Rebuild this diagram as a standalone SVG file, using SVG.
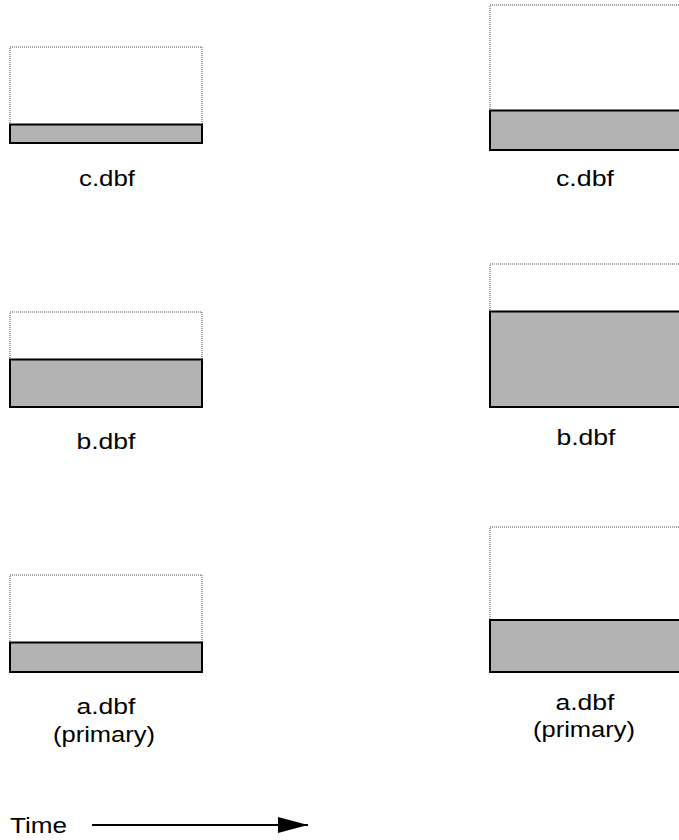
<svg xmlns="http://www.w3.org/2000/svg" width="679" height="840" viewBox="0 0 679 840">
<defs>
<style>
.outer{fill:#ffffff;stroke:#4d4d4d;stroke-width:1;stroke-dasharray:1 1}
.used{fill:#b3b3b3;stroke:#000000;stroke-width:2}
.lbl{font-family:"Liberation Sans",Arial,sans-serif;font-size:22px;fill:#000000;text-anchor:middle}
.tl{font-family:"Liberation Sans",Arial,sans-serif;font-size:22px;fill:#000000}
.conn{stroke:#000000;stroke-width:2;fill:none}
</style>
<marker id="arrow" markerUnits="userSpaceOnUse" markerWidth="32" markerHeight="18" refX="30" refY="8" orient="auto">
<path d="M0,0 L30,8 L0,16 Z" fill="#000000"/>
</marker>
</defs>
<rect width="679" height="840" fill="#ffffff"/>

<g id="c-before">
<rect class="outer" x="10" y="47" width="192" height="96"/>
<rect class="used" x="10" y="124.5" width="192" height="18.5"/>
<text class="lbl" x="107" y="186" textLength="56" lengthAdjust="spacingAndGlyphs">c.dbf</text>
</g>

<g id="b-before">
<rect class="outer" x="10" y="312" width="192" height="95"/>
<rect class="used" x="10" y="359.5" width="192" height="47.5"/>
<text class="lbl" x="106" y="449" textLength="59" lengthAdjust="spacingAndGlyphs">b.dbf</text>
</g>

<g id="a-before">
<rect class="outer" x="10" y="575" width="192" height="97"/>
<rect class="used" x="10" y="642.5" width="192" height="29.5"/>
<text class="lbl" x="106" y="714" textLength="59" lengthAdjust="spacingAndGlyphs">a.dbf</text>
<text class="lbl" x="104" y="742" textLength="102" lengthAdjust="spacingAndGlyphs">(primary)</text>
</g>

<g id="c-after">
<rect class="outer" x="490" y="5" width="200" height="145"/>
<rect class="used" x="490" y="110.5" width="200" height="39.5"/>
<text class="lbl" x="585" y="186" textLength="58" lengthAdjust="spacingAndGlyphs">c.dbf</text>
</g>

<g id="b-after">
<rect class="outer" x="490" y="264" width="200" height="143"/>
<rect class="used" x="490" y="311.5" width="200" height="95.5"/>
<text class="lbl" x="586" y="445" textLength="59" lengthAdjust="spacingAndGlyphs">b.dbf</text>
</g>

<g id="a-after">
<rect class="outer" x="490" y="527" width="200" height="145"/>
<rect class="used" x="490" y="620" width="200" height="52"/>
<text class="lbl" x="585" y="710" textLength="59" lengthAdjust="spacingAndGlyphs">a.dbf</text>
<text class="lbl" x="584" y="737" textLength="102" lengthAdjust="spacingAndGlyphs">(primary)</text>
</g>

<g id="time-label">
<text class="tl" x="10" y="833" textLength="57" lengthAdjust="spacingAndGlyphs">Time</text>
</g>

<g id="connectors">
<line class="conn" x1="92" y1="825" x2="308" y2="825" marker-end="url(#arrow)"/>
</g>
</svg>
